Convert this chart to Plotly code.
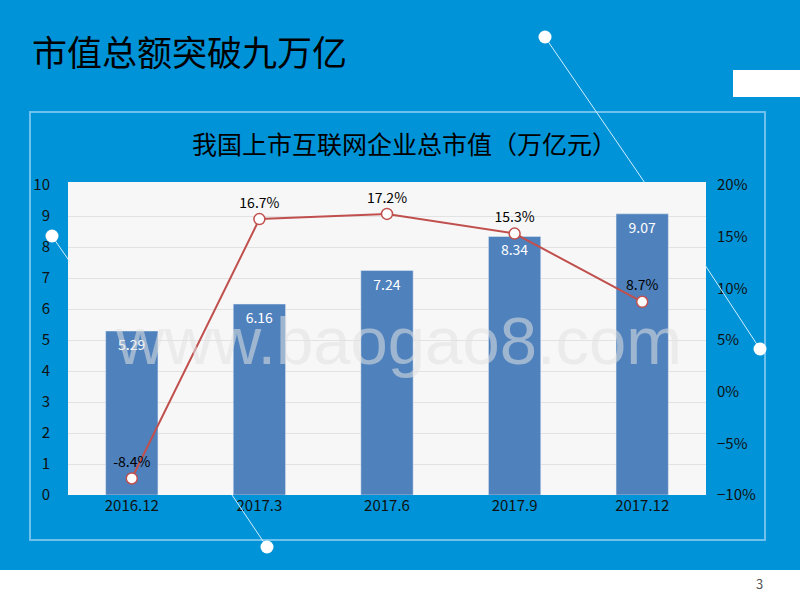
import plotly.graph_objects as go

categories = ["2016.12", "2017.3", "2017.6", "2017.9", "2017.12"]
market_value = [5.29, 6.16, 7.24, 8.34, 9.07]
growth = [-8.4, 16.7, 17.2, 15.3, 8.7]
growth_labels = ["-8.4%", "16.7%", "17.2%", "15.3%", "8.7%"]

W, H = 800, 600
def px(x): return x / W
def py(y): return 1 - y / H

fig = go.Figure()
fig.add_trace(go.Bar(x=categories, y=market_value, marker_color="#4F81BD", width=0.41,
                     text=[f"{v:.2f}" for v in market_value], textposition="inside",
                     insidetextanchor="end", textfont=dict(color="white", size=14), yaxis="y"))
fig.add_trace(go.Scatter(x=categories, y=growth, yaxis="y2", mode="lines+markers+text",
                         line=dict(color="#C0504D", width=2),
                         marker=dict(size=11, color="white", line=dict(color="#C0504D", width=1.5)),
                         text=growth_labels, textposition="top center",
                         textfont=dict(color="black", size=14)))

shapes = [
    dict(type="rect", xref="paper", yref="paper", x0=px(30), x1=px(765), y0=py(540), y1=py(112),
         fillcolor="rgba(0,0,0,0)", line=dict(color="#6EC1EC", width=2), layer="below"),
    dict(type="rect", xref="paper", yref="paper", x0=px(68), x1=px(706), y0=py(495), y1=py(182),
         fillcolor="#F7F7F7", line=dict(width=0), layer="below"),
    dict(type="rect", xref="paper", yref="paper", x0=px(733), x1=px(800), y0=py(97), y1=py(70),
         fillcolor="white", line=dict(width=0)),
    dict(type="rect", xref="paper", yref="paper", x0=0, x1=1, y0=0, y1=py(570),
         fillcolor="white", line=dict(width=0)),
]
for (x0, y0, x1, y1) in [(545, 37, 645, 183), (52, 236, 70, 262), (760, 349, 705, 265), (267, 547, 232, 495)]:
    shapes.append(dict(type="line", xref="paper", yref="paper", x0=px(x0), y0=py(y0), x1=px(x1), y1=py(y1),
                       line=dict(color="#CFEFFF", width=1)))
    shapes.append(dict(type="circle", xref="paper", yref="paper", x0=px(x0 - 6.5), x1=px(x0 + 6.5),
                       y0=py(y0 + 6.5), y1=py(y0 - 6.5), fillcolor="white", line=dict(width=0)))

ann = [
    dict(text="市值总额突破九万亿", x=px(30), y=py(50), xref="paper", yref="paper", xanchor="left",
         yanchor="middle", showarrow=False, font=dict(size=35, color="black", family="Noto Sans CJK SC")),
    dict(text="我国上市互联网企业总市值（万亿元）", x=px(404), y=py(143), xref="paper", yref="paper",
         yanchor="middle", showarrow=False, font=dict(size=25, color="black", family="Noto Sans CJK SC")),
    dict(text="www.baogao8.com", x=px(398), y=py(340), xref="paper", yref="paper", showarrow=False,
         yanchor="middle", font=dict(size=67, color="rgba(225,225,225,0.55)", family="Liberation Sans")),
    dict(text="3", x=px(765), y=py(583), xref="paper", yref="paper", showarrow=False,
         yanchor="middle", font=dict(size=13, color="#555")),
]

fig.update_layout(
    width=W, height=H, margin=dict(l=0, r=0, t=0, b=0, pad=0, autoexpand=False),
    paper_bgcolor="#0093D8",
    plot_bgcolor="rgba(0,0,0,0)", showlegend=False, shapes=shapes, annotations=ann,
    font=dict(family="Noto Sans CJK SC", size=15, color="#111"),
    xaxis=dict(domain=[px(68), px(706)], showgrid=False, ticks="", automargin=False),
    yaxis=dict(domain=[py(495), py(185)], range=[0, 10], dtick=1, showgrid=True, automargin=False,
               gridcolor="#E2E2E2", zeroline=False, ticks="", ticklabelstandoff=17),
    yaxis2=dict(overlaying="y", side="right", range=[-10, 20], dtick=5, ticksuffix="%", automargin=False,
                showgrid=False, zeroline=False, ticklabelstandoff=10),
)
fig.write_html("out.html", config={"displayModeBar": False})
with open("out.html", encoding="utf-8") as f:
    html = f.read()
html = html.replace("<body>", '<body style="margin:0;padding:0;overflow:hidden">', 1)
with open("out.html", "w", encoding="utf-8") as f:
    f.write(html)
